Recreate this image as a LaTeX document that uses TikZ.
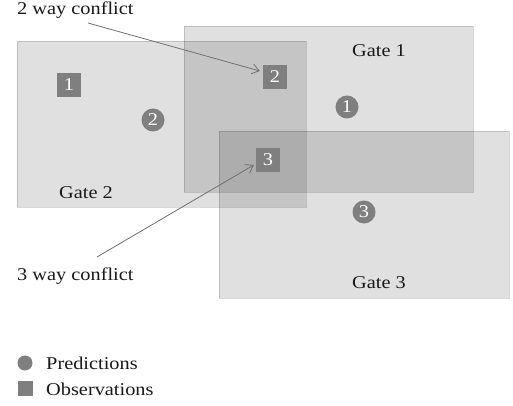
\documentclass[tikz,border=0pt]{standalone}
\usepackage{fontspec}
\setmainfont{Liberation Serif}[FakeStretch=1.13]
\usetikzlibrary{arrows.meta}
\definecolor{markgray}{HTML}{7F7F7F}
\definecolor{arrgray}{HTML}{707070}
\tikzset{
  gate/.style={fill=black, fill opacity=0.12, draw=black, draw opacity=0.15, line width=0.9pt},
  obs/.style={fill=markgray, text=white, minimum size=24pt, inner sep=0pt, font=\fontsize{18}{21}\selectfont},
  pred/.style={circle, fill=markgray, text=white, minimum size=23pt, inner sep=0pt, font=\fontsize{18}{21}\selectfont},
  lbl/.style={anchor=base west, inner sep=0pt, text=black!90, font=\fontsize{18}{21}\selectfont},
  arr/.style={draw=arrgray, line width=0.8pt, -{Straight Barb[length=7pt,width=10pt]}}
}
\begin{document}
\begin{tikzpicture}[x=1pt,y=-1pt]
\useasboundingbox (0,0) rectangle (513,406);
% gates
\path[gate] (17,41) rectangle (306,207);
\path[gate] (184,26) rectangle (473,192);
\path[gate] (219,131) rectangle (509,298);
% gate labels
\node[lbl] (g1) at (352,57) {Gate 1};
\node[lbl] (g2) at (59,198) {Gate 2};
\node[lbl] (g3) at (352,288) {Gate 3};
% observations
\node[obs] (o1) at (69,85) {1};
\node[obs] (o2) at (275,77) {2};
\node[obs] (o3) at (268,160) {3};
% predictions
\node[pred] (p1) at (347,107) {1};
\node[pred] (p2) at (153,120) {2};
\node[pred] (p3) at (364,212) {3};
% conflict labels and arrows
\node[lbl] (c2) at (17,15) {2 way conflict};
\node[lbl] (c3) at (17,280) {3 way conflict};
\coordinate (a1s) at (88,23);
\coordinate (a1e) at ([shift={(-3,-6)}]o2.west);
\coordinate (a2s) at (97,257);
\coordinate (a2e) at ([shift={(-2,5)}]o3.west);
\draw[arr] (a1s) -- (a1e);
\draw[arr] (a2s) -- (a2e);
% legend
\node[circle, fill=markgray, minimum size=15pt, inner sep=0pt] (lp) at (25,363) {};
\node[fill=markgray, minimum size=15pt, inner sep=0pt] (lo) at (25,388) {};
\node[lbl] (tp) at (46,369) {Predictions};
\node[lbl] (to) at (46,395) {Observations};
\end{tikzpicture}
\end{document}
